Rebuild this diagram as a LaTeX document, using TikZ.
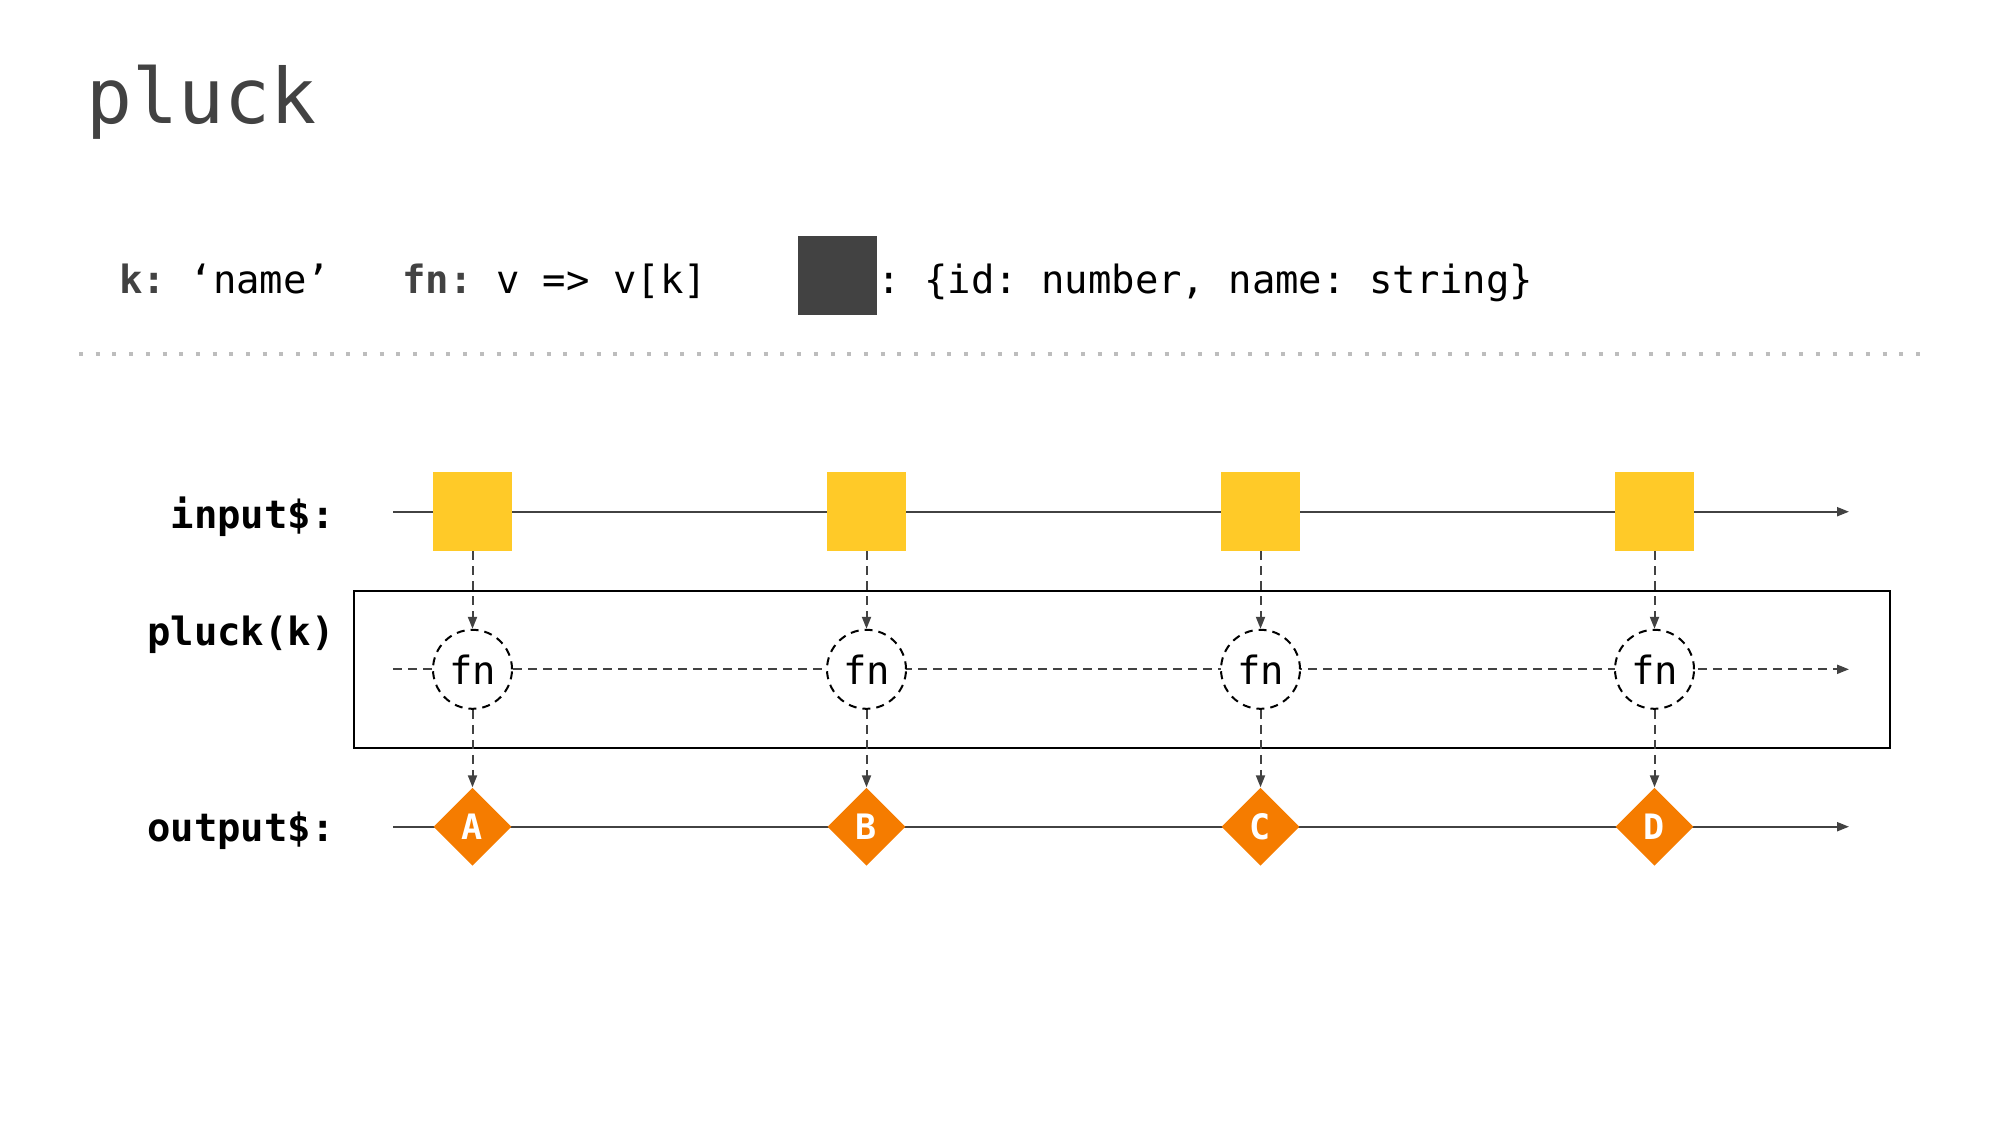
\documentclass[tikz,border=0pt]{standalone}
\usepackage{fontspec}
\setmonofont{DejaVu Sans Mono}
\usetikzlibrary{arrows.meta,shapes.geometric}

\definecolor{ink}{HTML}{424242}
\definecolor{marbleyellow}{HTML}{FFCA28}
\definecolor{resultorange}{HTML}{F57C00}
\definecolor{rulegray}{HTML}{BDBDBD}

\begin{document}
\begin{tikzpicture}[x=0.5pt,y=-0.5pt,
  mono/.style={inner sep=0, font=\ttfamily\fontsize{19.45}{23}\selectfont},
  lanelabel/.style={inner sep=0, anchor=base east,
    font=\ttfamily\bfseries\fontsize{19.45}{23}\selectfont},
  lane/.style={draw=ink, line width=1pt},
  flowtip/.style={-{Triangle[length=6pt,width=4.5pt]}},
  flowdash/.style={dash pattern=on 4.5pt off 3pt},
  marble/.style={rectangle, fill=marbleyellow, minimum size=39.25pt, inner sep=0},
  fnnode/.style={circle, draw=black, line width=1pt, dash pattern=on 4pt off 3pt,
    fill=white, minimum size=39.5pt, inner sep=0,
    font=\ttfamily\fontsize{19.45}{23}\selectfont},
  result/.style={diamond, fill=resultorange, minimum width=39pt, minimum height=39pt,
    inner sep=0, text=white, font=\ttfamily\bfseries\fontsize{17.5}{19}\selectfont},
  opframe/.style={rectangle, draw=black, line width=1.2pt, inner sep=0,
    minimum width=768pt, minimum height=78.5pt}
]
\useasboundingbox (0,0) rectangle (2000,1125);

% title
\node[inner sep=0, anchor=base west, text=ink,
  font=\ttfamily\fontsize{38.2}{46}\selectfont] (title) at (86,123.3) {pluck};

% legend line
\node[mono, anchor=base west] (keydef) at (119,293)
  {\textcolor{ink}{\bfseries k:} ‘name’};
\node[mono, anchor=base west] (fndef) at (402,293)
  {\textcolor{ink}{\bfseries fn:} v => v[k]};
\node[fill=ink, minimum size=39.5pt, inner sep=0] (typekey) at (837,275.5) {};
\node[mono, anchor=base west] (typedesc) at (877,293)
  {: \{id: number, name: string\}};

% dotted separator
\coordinate (ruleL) at (79,354);
\coordinate (ruleR) at (1932,354);
\draw[rulegray, line width=2pt, dash pattern=on 2pt off 6.35pt] (ruleL) -- (ruleR);

% operator frame
\node[opframe] (op) at (1122,669.2) {};

% lane labels
\node[lanelabel] (lblin) at (335,528.3) {input\$:};
\node[lanelabel] (lblop) at (335,645) {pluck(k)};
\node[lanelabel] (lblout) at (335,841.7) {output\$:};

% lanes
\coordinate (inL) at (393,511.7);   \coordinate (inR) at (1849,511.7);
\coordinate (fnL) at (393,669.3);   \coordinate (fnR) at (1849,669.3);
\coordinate (outL) at (393,826.7);  \coordinate (outR) at (1849,826.7);
\draw[lane, flowtip] (inL) -- (inR);
\draw[lane, flowdash, flowtip] (fnL) -- (fnR);
\draw[lane, flowtip] (outL) -- (outR);

% marbles, mapping steps and results
\foreach \i/\x/\l in {1/472.5/A, 2/866.5/B, 3/1260.5/C, 4/1654.5/D} {
  \node[marble] (sq\i) at (\x,511.7) {};
  \node[fnnode] (fn\i) at (\x,669.3) {fn};
  \node[result] (out\i) at (\x,826.7) {\raisebox{-1.2pt}{\l}};
  \draw[lane, flowdash, flowtip] (sq\i) -- (fn\i);
  \draw[lane, flowdash, flowtip] (fn\i) -- (out\i);
}
\end{tikzpicture}
\end{document}
